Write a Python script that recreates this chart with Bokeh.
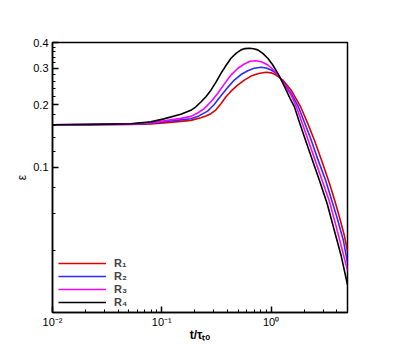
from bokeh.plotting import figure
from bokeh.models import FixedTicker, Legend, LegendItem
from bokeh.embed import file_html
from bokeh.resources import INLINE

# ---- data (t / tau_to , epsilon) ----
r1_t = [0.01, 0.0223, 0.052, 0.0793, 0.1043, 0.1494, 0.1845, 0.228, 0.2533, 0.2815, 0.3131,
        0.3477, 0.3865, 0.4296, 0.4945, 0.5689, 0.6554, 0.7678, 0.8999, 1.0, 1.111, 1.28, 1.526,
        1.866, 2.162, 2.496, 2.937, 3.427, 3.784, 4.206, 4.674, 5.0]
r1_eps = [0.1607, 0.1607, 0.1612, 0.1621, 0.1639, 0.1667, 0.1686, 0.1737, 0.1768, 0.1816, 0.1896,
          0.2027, 0.2192, 0.2331, 0.2493, 0.2636, 0.2756, 0.2834, 0.2873, 0.2857, 0.2787, 0.2636,
          0.2357, 0.1956, 0.1630, 0.1348, 0.1060, 0.0834, 0.0705, 0.0580, 0.0471, 0.0394]

r2_t = [0.01, 0.0223, 0.052, 0.0793, 0.1043, 0.1494, 0.1845, 0.2185, 0.2626, 0.3000, 0.3477,
        0.3990, 0.4605, 0.5306, 0.6113, 0.6983, 0.8096, 0.8999, 1.0, 1.088, 1.191, 1.344, 1.526,
        1.780, 2.279, 2.643, 3.162, 3.627, 4.075, 4.577, 5.0]
r2_eps = [0.1607, 0.1609, 0.1617, 0.1630, 0.1661, 0.1695, 0.1718, 0.1772, 0.1868, 0.2004, 0.2216,
          0.2424, 0.2636, 0.2803, 0.2924, 0.3004, 0.3037, 0.3014, 0.2948, 0.2866, 0.2735, 0.2506,
          0.2272, 0.1956, 0.1398, 0.1115, 0.0862, 0.0682, 0.0557, 0.0446, 0.0348]

r3_t = [0.01, 0.0223, 0.052, 0.0793, 0.1043, 0.1494, 0.1845, 0.2128, 0.2444, 0.2815, 0.3243,
        0.3728, 0.4296, 0.4945, 0.5689, 0.6418, 0.7287, 0.8270, 0.9327, 1.054, 1.191, 1.344,
        1.526, 1.706, 2.138, 2.480, 2.937, 3.405, 3.868, 4.387, 5.0]
r3_eps = [0.1607, 0.1610, 0.1621, 0.1639, 0.1676, 0.1723, 0.1762, 0.1829, 0.1921, 0.2073, 0.2272,
          0.2520, 0.2787, 0.2997, 0.3151, 0.3248, 0.3269, 0.3222, 0.3116, 0.2948, 0.2735, 0.2478,
          0.2229, 0.1956, 0.1398, 0.1115, 0.0862, 0.0689, 0.0539, 0.0417, 0.0319]

r4_t = [0.01, 0.0223, 0.052, 0.0793, 0.1043, 0.1494, 0.1845, 0.205, 0.228, 0.2533, 0.2815,
        0.3131, 0.3477, 0.3865, 0.4296, 0.4775, 0.5306, 0.5774, 0.6324, 0.6910, 0.7551, 0.8393,
        0.9327, 1.0366, 1.152, 1.2617, 1.373, 1.494, 1.636, 1.807, 2.021, 2.328, 2.775, 3.264,
        3.784, 4.387, 5.0]
r4_eps = [0.1607, 0.1612, 0.1625, 0.1658, 0.1714, 0.1803, 0.1884, 0.1960, 0.2068, 0.2192, 0.2357,
          0.2577, 0.2841, 0.3099, 0.3359, 0.3544, 0.3686, 0.3739, 0.3756, 0.3735, 0.3686, 0.3544,
          0.3359, 0.3116, 0.2841, 0.2592, 0.2357, 0.2148, 0.1956, 0.1667, 0.1398, 0.1127, 0.0862,
          0.0666, 0.0498, 0.0373, 0.0272]

series_labels = ["R\u2081", "R\u2082", "R\u2083", "R\u2084"]
series_colors = ["#dd0000", "#2b2bff", "#ff00ff", "#000000"]

x_major = [0.01, 0.1, 1.0]
x_major_labels = ["10\u207b\u00b2", "10\u207b\u00b9", "10\u2070"]
x_minor = [0.02, 0.03, 0.04, 0.05, 0.06, 0.07, 0.08, 0.09,
           0.2, 0.3, 0.4, 0.5, 0.6, 0.7, 0.8, 0.9, 2, 3, 4, 5]
y_major = [0.1, 0.2, 0.3, 0.4]
y_major_labels = ["0.1", "0.2", "0.3", "0.4"]
y_minor = [0.02, 0.04, 0.06, 0.08, 0.12, 0.14, 0.16, 0.18, 0.22, 0.24, 0.26, 0.28,
           0.32, 0.34, 0.36, 0.38]

FONT = "Liberation Sans"

p = figure(x_axis_type="log", y_axis_type="log",
           x_range=(0.01, 5.0), y_range=(0.02, 0.4),
           frame_width=295, frame_height=270,
           min_border_left=52, min_border_right=44, min_border_top=42, min_border_bottom=36,
           output_backend="svg", toolbar_location=None)

p.xgrid.visible = False
p.ygrid.visible = False
p.outline_line_color = "black"
p.outline_line_width = 1.5
p.outline_line_alpha = 1.0
p.background_fill_color = "white"
p.border_fill_color = "white"

renderers = []
for t, e, c in zip([r1_t, r2_t, r3_t, r4_t], [r1_eps, r2_eps, r3_eps, r4_eps], series_colors):
    renderers.append(p.line(t, e, line_color=c, line_width=1.6, line_join="round"))

for ax in (p.xaxis[0], p.yaxis[0]):
    ax.axis_line_color = "black"
    ax.axis_line_width = 1.5
    ax.major_tick_in = 6
    ax.major_tick_out = 0
    ax.minor_tick_in = 3
    ax.minor_tick_out = 0
    ax.major_tick_line_width = 1.5
    ax.minor_tick_line_width = 1
    ax.major_label_text_font = FONT
    ax.major_label_text_font_size = "11px"
    ax.major_label_text_color = "black"
    ax.axis_label_text_color = "black"

p.xaxis.ticker = FixedTicker(ticks=x_major, minor_ticks=x_minor)
p.yaxis.ticker = FixedTicker(ticks=y_major, minor_ticks=y_minor)
p.xaxis.major_label_overrides = {v: s for v, s in zip(x_major, x_major_labels)}
p.yaxis.major_label_overrides = {v: s for v, s in zip(y_major, y_major_labels)}
p.xaxis.major_label_standoff = 3
p.yaxis.major_label_standoff = 4

p.xaxis.axis_label = "t/\u03c4\u209c\u2092"
p.xaxis.axis_label_text_font = FONT
p.xaxis.axis_label_text_font_style = "bold"
p.xaxis.axis_label_text_font_size = "12px"
p.xaxis.axis_label_standoff = -3

p.yaxis.axis_label = "\u03b5"
p.yaxis.axis_label_text_font = FONT
p.yaxis.axis_label_text_font_style = "normal"
p.yaxis.axis_label_text_font_size = "12px"
p.yaxis.axis_label_standoff = 1

legend = Legend(items=[LegendItem(label=l, renderers=[r]) for l, r in zip(series_labels, renderers)],
                location=(1, -1), orientation="vertical",
                glyph_width=48, glyph_height=12, label_height=12, spacing=1,
                label_standoff=8, padding=5, margin=0,
                label_text_font=FONT, label_text_font_style="bold", label_text_font_size="11px",
                background_fill_alpha=0, border_line_alpha=0)
p.add_layout(legend, "center")

open("out.html", "w").write(file_html(p, INLINE))
